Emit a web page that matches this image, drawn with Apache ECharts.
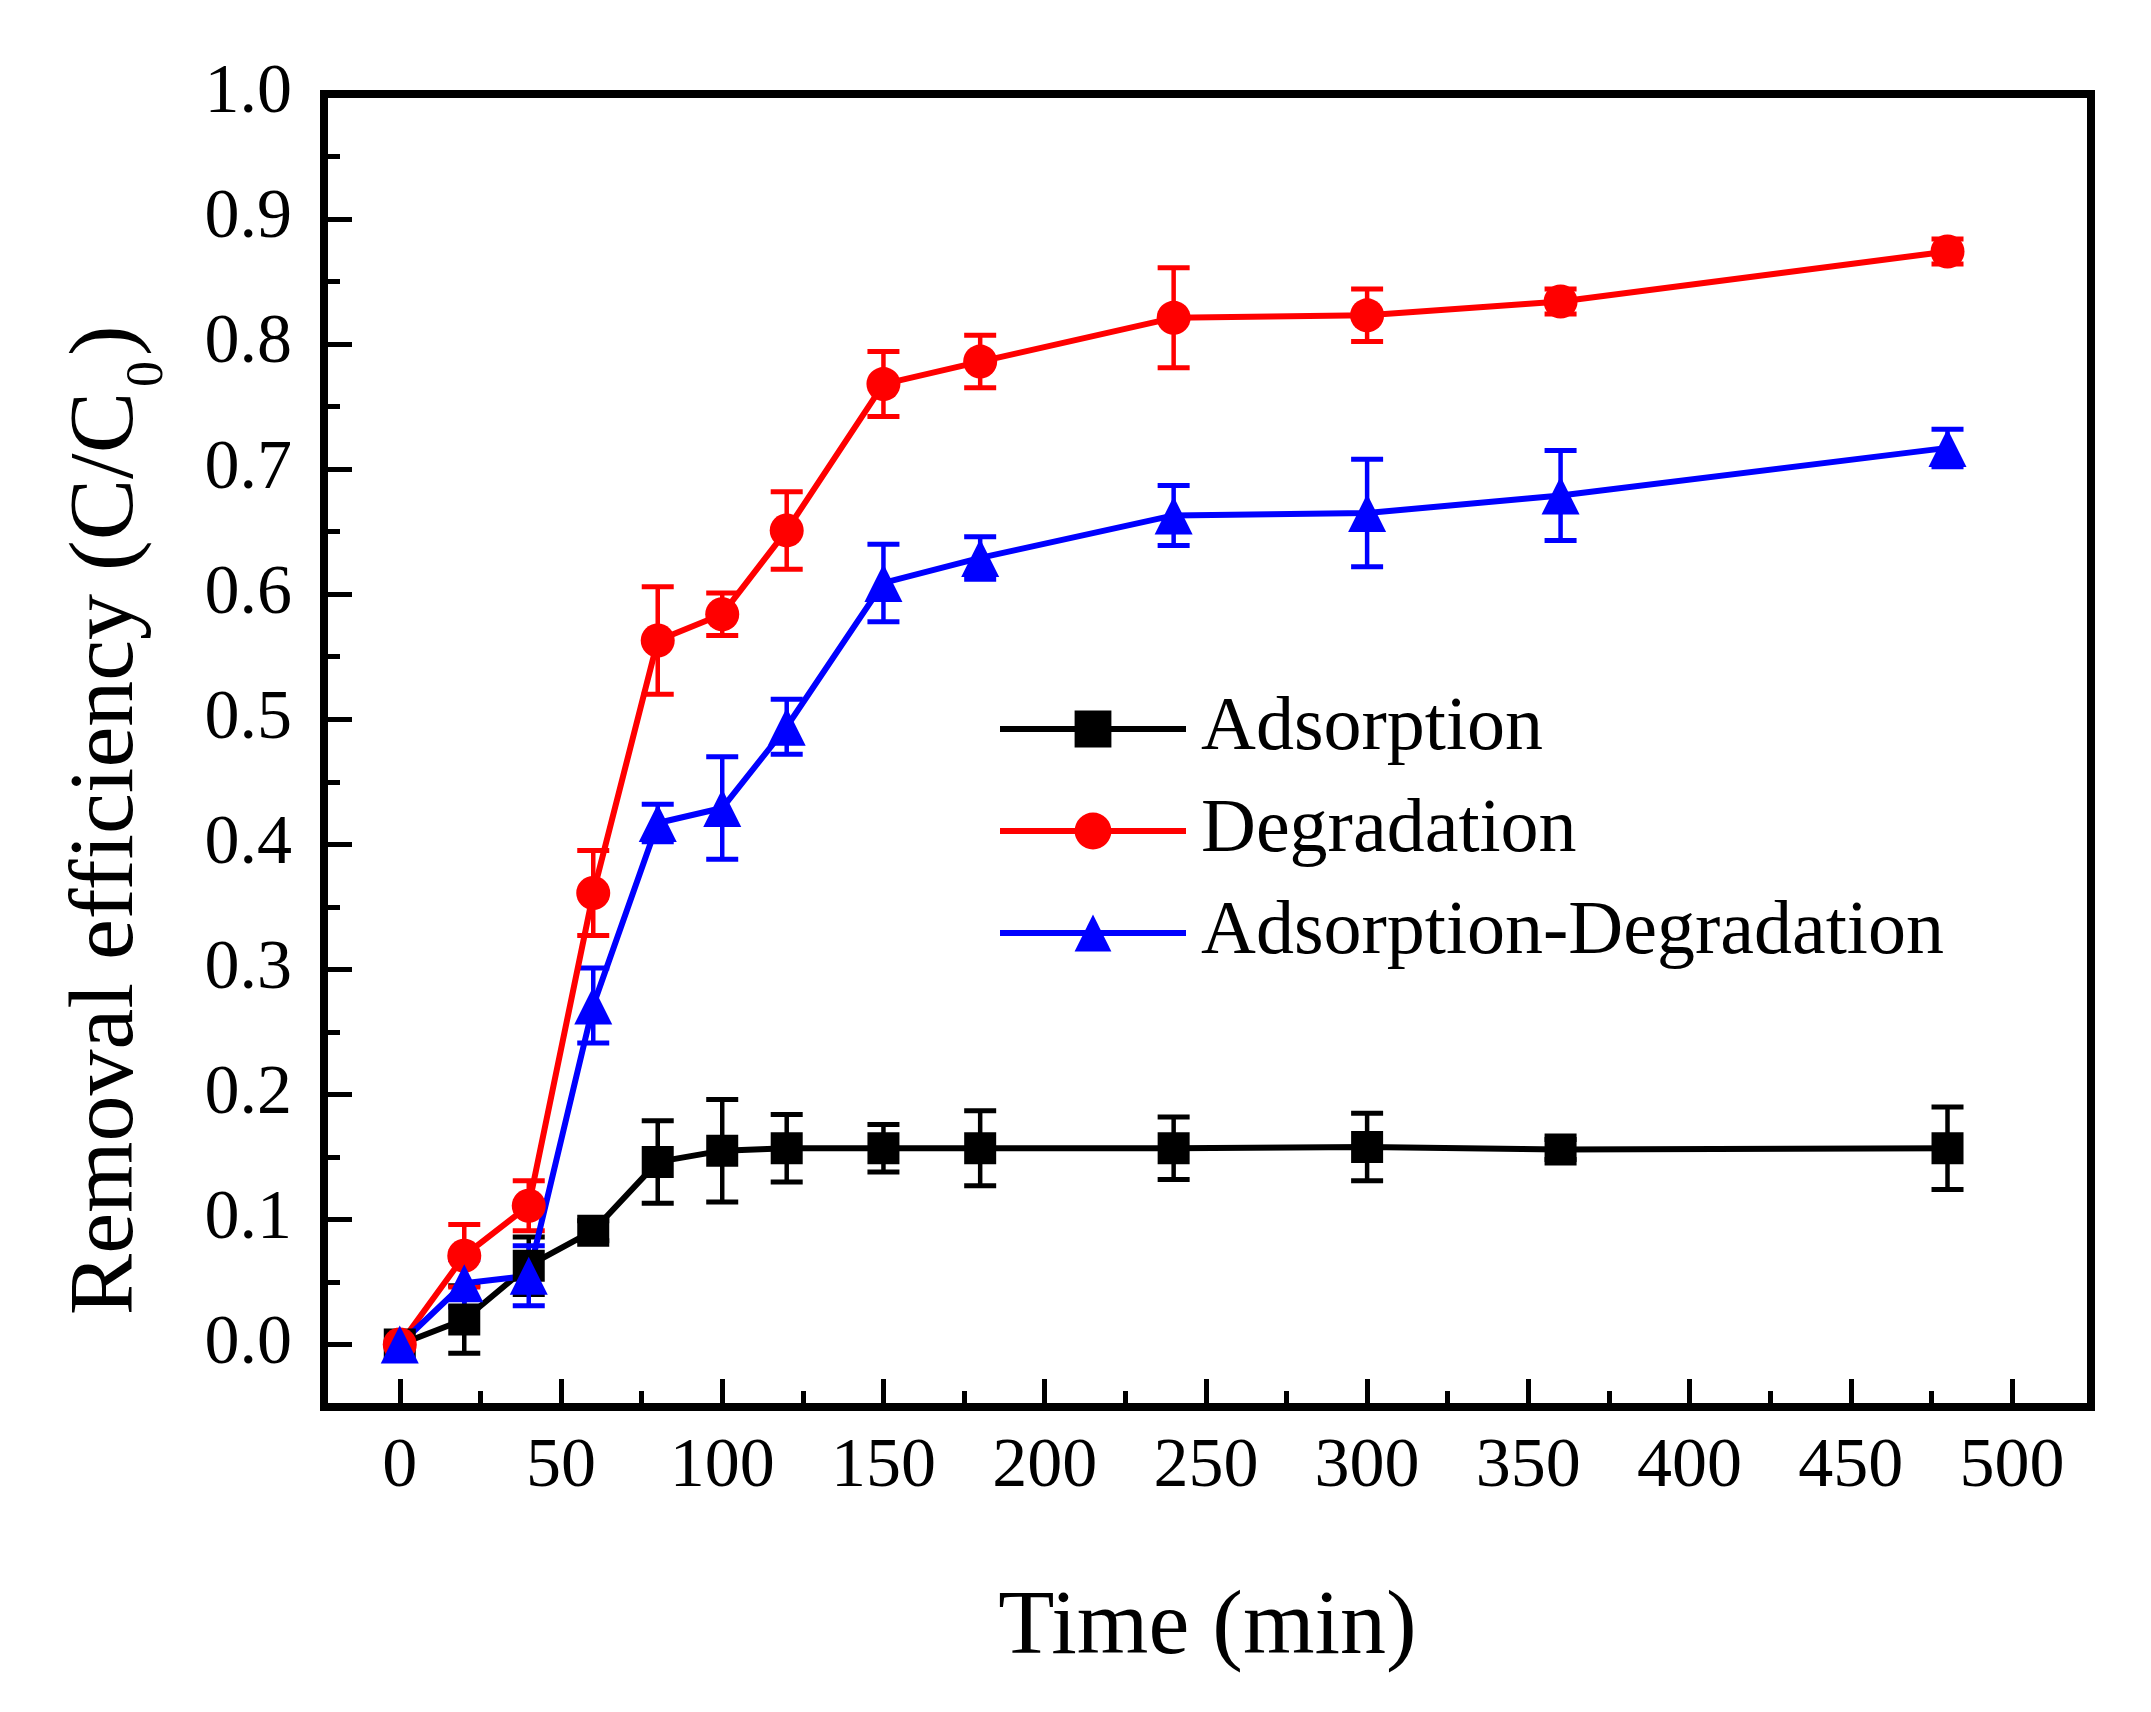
<!DOCTYPE html>
<html>
<head>
<meta charset="utf-8">
<script src="https://cdn.jsdelivr.net/npm/echarts@6/dist/echarts.min.js"></script>
<style>html,body{margin:0;padding:0;background:#fff}#c{width:2151px;height:1712px}</style>
</head>
<body>
<div id="c"></div>
<script>
// ---- data ----
const times = [0, 20, 40, 60, 80, 100, 120, 150, 180, 240, 300, 360, 480];

const adsorption    = [0, 0.020, 0.063, 0.091, 0.146, 0.155, 0.157, 0.157, 0.157, 0.157, 0.158, 0.156, 0.157];
const adsorptionErr = [0, 0.027, 0.023, 0.008, 0.033, 0.041, 0.027, 0.019, 0.030, 0.025, 0.027, 0.008, 0.033];

const degradation    = [0, 0.071, 0.111, 0.361, 0.563, 0.584, 0.651, 0.768, 0.786, 0.821, 0.823, 0.834, 0.874];
const degradationErr = [0, 0.025, 0.020, 0.034, 0.043, 0.017, 0.031, 0.026, 0.021, 0.040, 0.021, 0.010, 0.010];

const adsDeg    = [0, 0.049, 0.055, 0.271, 0.417, 0.429, 0.494, 0.609, 0.629, 0.663, 0.665, 0.679, 0.717];
const adsDegErr = [0, 0.019, 0.024, 0.030, 0.015, 0.041, 0.022, 0.031, 0.017, 0.024, 0.043, 0.036, 0.015];

const seriesNames = ['Adsorption', 'Degradation', 'Adsorption-Degradation'];

const xTickValues = [0, 50, 100, 150, 200, 250, 300, 350, 400, 450, 500];
const xMinorTicks = [25, 75, 125, 175, 225, 275, 325, 375, 425, 475];
const yTickValues = [0, 0.1, 0.2, 0.3, 0.4, 0.5, 0.6, 0.7, 0.8, 0.9, 1.0];
const yMinorTicks = [0.05, 0.15, 0.25, 0.35, 0.45, 0.55, 0.65, 0.75, 0.85, 0.95];

const yTitleMain = 'Removal efficiency (C/C';
const yTitleSub = '0';
const yTitleEnd = ')';
const xTitle = 'Time (min)';

// ---- helpers ----
const FONT = 'Liberation Serif';
function points(vals) { return times.map((t, i) => [t, vals[i]]); }
function errPoints(vals, errs) { return times.map((t, i) => [t, vals[i] - errs[i], vals[i] + errs[i]]); }
function errorRender(color) {
  return function (params, api) {
    const x = api.value(0), lo = api.value(1), hi = api.value(2);
    if (hi - lo < 1e-6) return null;
    const a = api.coord([x, lo]), b = api.coord([x, hi]);
    const hw = 16;
    return {
      type: 'group',
      children: [
        { type: 'line', shape: { x1: a[0], y1: a[1], x2: b[0], y2: b[1] }, style: { stroke: color, lineWidth: 4.5 } },
        { type: 'line', shape: { x1: a[0] - hw, y1: a[1], x2: a[0] + hw, y2: a[1] }, style: { stroke: color, lineWidth: 5 } },
        { type: 'line', shape: { x1: b[0] - hw, y1: b[1], x2: b[0] + hw, y2: b[1] }, style: { stroke: color, lineWidth: 5 } }
      ]
    };
  };
}
function lineSeries(name, vals, color, symbol, size) {
  return {
    name: name, type: 'line', data: points(vals),
    xAxisIndex: 0, yAxisIndex: 0,
    symbol: symbol, symbolSize: size, showSymbol: true,
    lineStyle: { color: color, width: 6 },
    itemStyle: { color: color },
    z: 3
  };
}
function errSeries(name, vals, errs, color) {
  return {
    name: name + ' error', type: 'custom', data: errPoints(vals, errs),
    xAxisIndex: 0, yAxisIndex: 0,
    encode: { x: 0, y: [1, 2] },
    renderItem: errorRender(color),
    z: 2
  };
}

const chart = echarts.init(document.getElementById('c'), null, { renderer: 'canvas' });
const tickStyle = { color: '#000', width: 5 };
chart.setOption({
  animation: false,
  backgroundColor: '#ffffff',
  grid: {
    left: 324, right: 60, top: 94, bottom: 305,
    show: true, borderColor: '#000', borderWidth: 8,
    containLabel: false, outerBoundsMode: 'none'
  },
  legend: {
    data: seriesNames,
    orient: 'vertical', left: 997, top: 691,
    itemWidth: 186, itemHeight: 46, itemGap: 26, padding: 0,
    lineStyle: { width: 6 },
    textStyle: { fontFamily: FONT, fontSize: 76, lineHeight: 76, color: '#000', padding: [0, 0, 0, 10] }
  },
  xAxis: [
    {
      type: 'value', min: -23.5, max: 524.5, position: 'bottom',
      axisLine: { show: true, onZero: false, lineStyle: { color: '#000', width: 8 } },
      axisTick: { show: true, inside: true, length: 28, lineStyle: tickStyle, customValues: xTickValues },
      axisLabel: { show: true, customValues: xTickValues, margin: 26, color: '#000', fontFamily: FONT, fontSize: 70 },
      splitLine: { show: false },
      name: xTitle, nameLocation: 'middle', nameGap: 176,
      nameTextStyle: { fontFamily: FONT, fontSize: 92, color: '#000' }
    },
    {
      type: 'value', min: -23.5, max: 524.5, position: 'bottom',
      axisLine: { show: false, onZero: false },
      axisTick: { show: true, inside: true, length: 16, lineStyle: tickStyle, customValues: xMinorTicks },
      axisLabel: { show: false },
      splitLine: { show: false }
    }
  ],
  yAxis: [
    {
      type: 'value', min: -0.05, max: 1.0, position: 'left',
      axisLine: { show: true, onZero: false, lineStyle: { color: '#000', width: 8 } },
      axisTick: { show: true, inside: true, length: 28, lineStyle: tickStyle, customValues: yTickValues },
      axisLabel: {
        show: true, customValues: yTickValues, margin: 32, color: '#000', fontFamily: FONT, fontSize: 70,
        formatter: v => Number(v).toFixed(1)
      },
      splitLine: { show: false }
    },
    {
      type: 'value', min: -0.05, max: 1.0, position: 'left',
      axisLine: { show: false, onZero: false },
      axisTick: { show: true, inside: true, length: 16, lineStyle: tickStyle, customValues: yMinorTicks },
      axisLabel: { show: false },
      splitLine: { show: false }
    }
  ],
  graphic: [
    {
      type: 'group', x: 108, y: 392, rotation: Math.PI / 2, z: 10,
      children: [
        { type: 'text', x: 0, y: 0,
          style: { text: yTitleMain, align: 'right', verticalAlign: 'middle', fill: '#000', fontFamily: FONT, fontSize: 92 } },
        { type: 'text', x: 5, y: 40,
          style: { text: yTitleSub, align: 'left', verticalAlign: 'middle', fill: '#000', fontFamily: FONT, fontSize: 52 } },
        { type: 'text', x: 36, y: 0,
          style: { text: yTitleEnd, align: 'left', verticalAlign: 'middle', fill: '#000', fontFamily: FONT, fontSize: 92 } }
      ]
    }
  ],
  series: [
    errSeries(seriesNames[0], adsorption, adsorptionErr, '#000000'),
    errSeries(seriesNames[1], degradation, degradationErr, '#ff0000'),
    errSeries(seriesNames[2], adsDeg, adsDegErr, '#0000ff'),
    lineSeries(seriesNames[0], adsorption, '#000000', 'rect', 32),
    lineSeries(seriesNames[1], degradation, '#ff0000', 'circle', 34),
    lineSeries(seriesNames[2], adsDeg, '#0000ff', 'triangle', 38)
  ]
});
</script>
</body>
</html>
